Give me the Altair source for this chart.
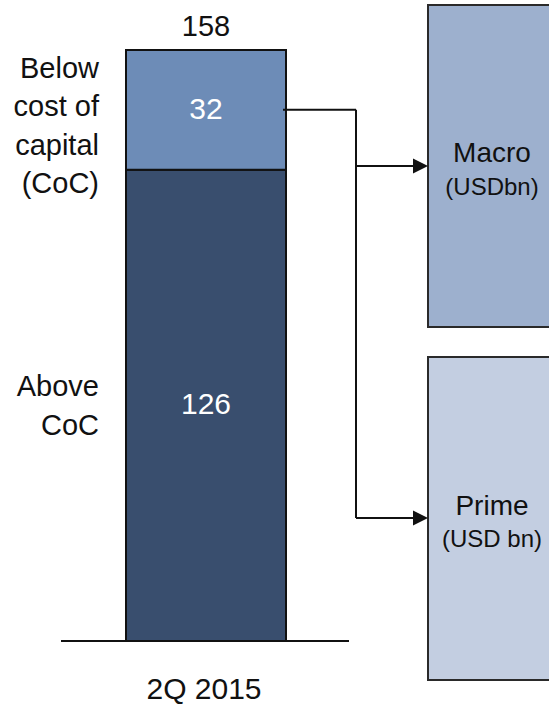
import altair as alt
import pandas as pd

# ---- data -------------------------------------------------------------
PERIOD = "2Q 2015"
SEGMENTS = ["Above CoC", "Below cost of capital (CoC)"]
VALUES = [126, 32]
SEGMENT_LABELS = [["Above", "CoC"], ["Below", "cost of", "capital", "(CoC)"]]
SEGMENT_COLORS = ["#394e6e", "#6d8cb7"]

BOX_TITLES = ["Macro", "Prime"]
BOX_UNITS = ["(USDbn)", "(USD bn)"]
BOX_COLORS = ["#9db0ce", "#c3cee1"]

TOTAL = sum(VALUES)

# ---- layout (pixels) --------------------------------------------------
W, H = 549, 704
BAR_X0, BAR_X1 = 126, 286
BAR_CX = (BAR_X0 + BAR_X1) / 2
BASE_Y, TOP_Y = 641, 50          # pixel rows of value 0 and of the total
LABEL_X = 99
ELBOW_X = 356
BOX_X0, BOX_X1 = 428, 560
BOX_CX = 492
BOX_Y = [(5, 327), (357, 680)]
ARROW_Y = [166, 518]
TITLE_Y = [(162, 195), (515, 547)]
LABEL_DY = [-18, -41]            # first-line offset of each side label block
FONT = "Liberation Sans"
INK = "#111111"

# value axis: value 0 sits on the baseline, the total on the bar top
k = (BASE_Y - TOP_Y) / TOTAL
ys = alt.Scale(domain=[-(H - BASE_Y) / k, BASE_Y / k], nice=False, zero=False)

starts = [sum(VALUES[:i]) for i in range(len(VALUES))]
bars = pd.DataFrame({
    "segment": SEGMENTS,
    "value": VALUES,
    "start": starts,
    "end": [s + v for s, v in zip(starts, VALUES)],
    "mid": [s + v / 2 for s, v in zip(starts, VALUES)],
    "color": SEGMENT_COLORS,
    "label": SEGMENT_LABELS,
})
total_df = pd.DataFrame({"period": [PERIOD], "total": [TOTAL], "zero": [0]})

boxes = pd.DataFrame({
    "title": BOX_TITLES,
    "unit": BOX_UNITS,
    "color": BOX_COLORS,
    "y0": [b[0] for b in BOX_Y],
    "y1": [b[1] for b in BOX_Y],
    "arrow_y": ARROW_Y,
    "title_y": [t[0] for t in TITLE_Y],
    "unit_y": [t[1] for t in TITLE_Y],
})

base = alt.Chart(bars)

segment_rects = base.mark_rect(stroke=INK, strokeWidth=2).encode(
    x=alt.value(BAR_X0), x2=alt.value(BAR_X1),
    y=alt.Y("start:Q", scale=ys, axis=None), y2="end:Q",
    color=alt.Color("color:N", scale=None),
)

value_text = base.mark_text(
    font=FONT, fontSize=30, color="white", baseline="middle", align="center"
).encode(x=alt.value(BAR_CX), y=alt.Y("mid:Q", scale=ys), text="value:Q")

side_labels = []
for i in range(len(SEGMENTS)):
    side_labels.append(
        alt.Chart(bars.iloc[[i]]).mark_text(
            font=FONT, fontSize=29, color=INK, align="right",
            baseline="middle", lineHeight=38.5, dy=LABEL_DY[i],
        ).encode(x=alt.value(LABEL_X), y=alt.Y("mid:Q", scale=ys), text="label")
    )

total_text = alt.Chart(total_df).mark_text(
    font=FONT, fontSize=29, color=INK, align="center", baseline="alphabetic", dy=-14
).encode(x=alt.value(BAR_CX), y=alt.Y("total:Q", scale=ys), text="total:Q")

period_text = alt.Chart(total_df).mark_text(
    font=FONT, fontSize=30, color=INK, align="center", baseline="alphabetic"
).encode(x=alt.value(204), y=alt.value(699), text="period:N")

baseline = alt.Chart(total_df).mark_rule(color=INK, strokeWidth=2).encode(
    x=alt.value(61), x2=alt.value(349), y=alt.Y("zero:Q", scale=ys)
)

# connector from the below-CoC segment to the business boxes
top = bars[bars["segment"] == SEGMENTS[1]]
stub = alt.Chart(top).mark_rule(color=INK, strokeWidth=2).encode(
    x=alt.value(BAR_X1 - 3), x2=alt.value(ELBOW_X), y=alt.Y("mid:Q", scale=ys)
)
trunk = alt.Chart(top).mark_rule(color=INK, strokeWidth=2).encode(
    x=alt.value(ELBOW_X), y=alt.Y("mid:Q", scale=ys), y2=alt.value(max(ARROW_Y))
)

bx = alt.Chart(boxes)
box_rects = bx.mark_rect(stroke="#2a2a2a", strokeWidth=2).encode(
    x=alt.value(BOX_X0), x2=alt.value(BOX_X1),
    y=alt.Y("y0:Q", scale=None), y2=alt.Y2("y1:Q"),
    color=alt.Color("color:N", scale=None),
)
branches = bx.mark_rule(color=INK, strokeWidth=2).encode(
    x=alt.value(ELBOW_X), x2=alt.value(BOX_X0 - 14), y=alt.Y("arrow_y:Q", scale=None)
)
heads = bx.mark_point(
    shape="M-1,-1L1,0L-1,1Z", size=225, filled=True, color=INK, opacity=1
).encode(x=alt.value(BOX_X0 - 7.5), y=alt.Y("arrow_y:Q", scale=None))
titles = bx.mark_text(
    font=FONT, fontSize=28, color=INK, align="center", baseline="alphabetic"
).encode(x=alt.value(BOX_CX), y=alt.Y("title_y:Q", scale=None), text="title:N")
units = bx.mark_text(
    font=FONT, fontSize=24, color=INK, align="center", baseline="alphabetic"
).encode(x=alt.value(BOX_CX), y=alt.Y("unit_y:Q", scale=None), text="unit:N")

chart = alt.layer(
    box_rects, segment_rects, baseline, stub, trunk, branches, heads,
    value_text, *side_labels, total_text, period_text, titles, units,
).properties(
    width=W, height=H, padding=0, autosize=alt.AutoSizeParams(type="none"),
    background="white",
).configure_view(stroke=None)

chart.save("out.html", embed_options={"renderer": "svg", "actions": False})
